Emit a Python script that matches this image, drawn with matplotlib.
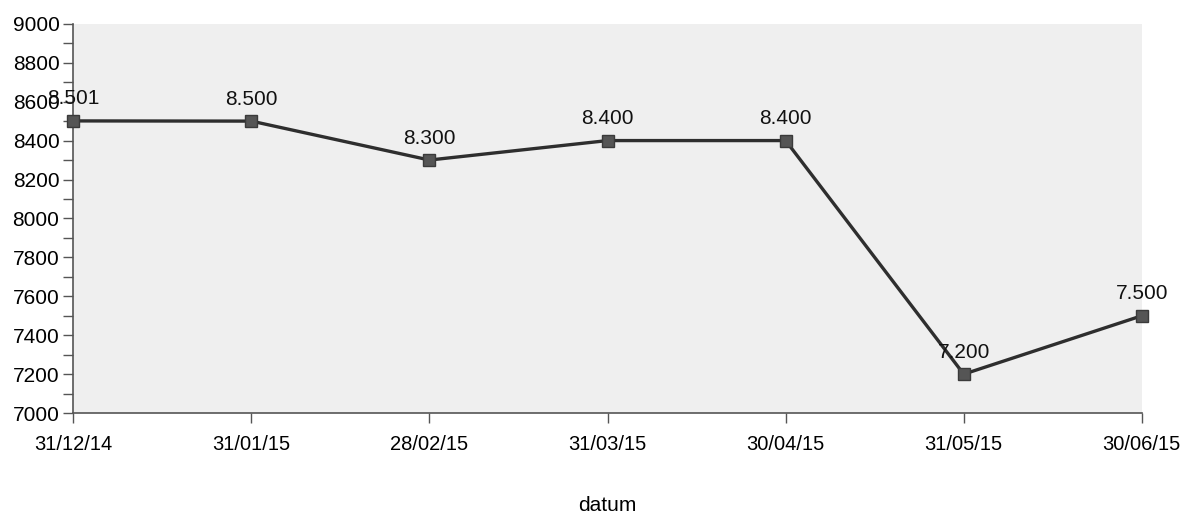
import matplotlib
matplotlib.use("Agg")
import matplotlib.pyplot as plt
from matplotlib.ticker import MultipleLocator

dates = ["31/12/14", "31/01/15", "28/02/15", "31/03/15", "30/04/15", "31/05/15", "30/06/15"]
values = [8501, 8500, 8300, 8400, 8400, 7200, 7500]
value_labels = ["8.501", "8.500", "8.300", "8.400", "8.400", "7.200", "7.500"]

plt.rcParams["font.family"] = ["Liberation Sans", "DejaVu Sans"]

fig = plt.figure(figsize=(11.82, 5.17), dpi=100)
ax = fig.add_axes([0.062, 0.201, 0.904, 0.753])
ax.set_facecolor("#efefef")

x = list(range(len(dates)))
ax.plot(x, values, color="#2e2e2e", linewidth=2.4, marker="s", markersize=8,
        markerfacecolor="#555555", markeredgecolor="#3a3a3a", zorder=3, clip_on=False)

for xi, v, lab in zip(x, values, value_labels):
    ax.annotate(lab, (xi, v), xytext=(0, 9), textcoords="offset points",
                ha="center", va="bottom", fontsize=15, color="#111111")

ax.set_xlim(0, len(dates) - 1)
ax.set_ylim(7000, 9000)
ax.set_xticks(x)
ax.set_xticklabels(dates, fontsize=14.5)
ax.yaxis.set_major_locator(MultipleLocator(200))
ax.yaxis.set_minor_locator(MultipleLocator(100))
ax.tick_params(axis="y", which="major", labelsize=15, length=7, width=1, color="#555555", pad=3)
ax.tick_params(axis="y", which="minor", length=7, width=1, color="#555555")
ax.tick_params(axis="x", length=7, width=1, color="#555555", pad=9)

for side in ("top", "right"):
    ax.spines[side].set_visible(False)
for side in ("left", "bottom"):
    ax.spines[side].set_color("#555555")
    ax.spines[side].set_linewidth(1.2)

ax.set_xlabel("datum", fontsize=15, labelpad=30)

fig.savefig("out.png", dpi=100, facecolor="white")
